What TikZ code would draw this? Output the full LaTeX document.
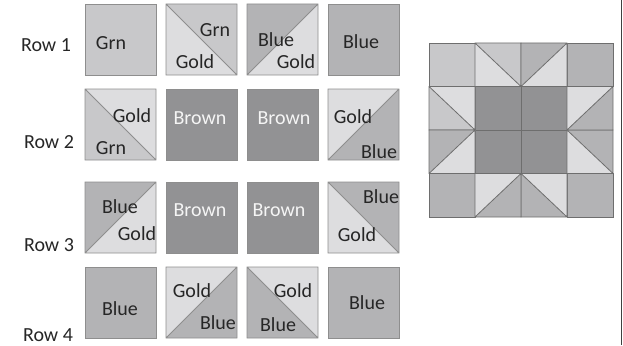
\documentclass[tikz,border=0pt]{standalone}
\usepackage{fontspec}
\setmainfont{Carlito}

\definecolor{grncol}{HTML}{C8C8CA}
\definecolor{goldcol}{HTML}{DDDDDF}
\definecolor{bluecol}{HTML}{B3B3B5}
\definecolor{browncol}{HTML}{929294}
\definecolor{edgecol}{HTML}{8E8E8E}
\definecolor{qedgecol}{HTML}{6E6E6E}

\tikzset{
  patch/.style={draw=edgecol, line width=0.9pt},
  qpatch/.style={draw=qedgecol, line width=0.8pt},
  lbl/.style={font=\fontsize{20}{24}\selectfont, inner sep=0pt, text=black!85},
  wlbl/.style={lbl, text=white!96!black}
}

\begin{document}
\begin{tikzpicture}[x=1pt, y=-1pt]
    \useasboundingbox (0,0) rectangle (623,345);

    % Solid squares of the block
    \foreach \x/\y/\A in {85/4/grncol, 328/4/bluecol, 166/89/browncol, 247/89/browncol,
                          166/182/browncol, 247/182/browncol, 85/267/bluecol, 328/267/bluecol}{
        \filldraw[patch, fill=\A] (\x,\y) rectangle (\x+71,\y+71);
    }

    % Half squares, diagonal from top left to bottom right
    \foreach \x/\y/\A/\B in {166/4/grncol/goldcol, 85/89/goldcol/grncol,
                             328/182/bluecol/goldcol, 247/267/goldcol/bluecol}{
        \fill[\A] (\x,\y) -- (\x+71,\y) -- (\x+71,\y+71) -- cycle;
        \fill[\B] (\x,\y) -- (\x,\y+71) -- (\x+71,\y+71) -- cycle;
        \draw[patch] (\x,\y) rectangle (\x+71,\y+71) (\x,\y) -- (\x+71,\y+71);
    }

    % Half squares, diagonal from bottom left to top right
    \foreach \x/\y/\A/\B in {247/4/bluecol/goldcol, 328/89/goldcol/bluecol,
                             85/182/bluecol/goldcol, 166/267/goldcol/bluecol}{
        \fill[\A] (\x,\y+71) -- (\x,\y) -- (\x+71,\y) -- cycle;
        \fill[\B] (\x,\y+71) -- (\x+71,\y+71) -- (\x+71,\y) -- cycle;
        \draw[patch] (\x,\y) rectangle (\x+71,\y+71) (\x,\y+71) -- (\x+71,\y);
    }

    % Row labels
    \node[lbl] (row1) at (46,45) {Row 1};
    \node[lbl] (row2) at (49,142) {Row 2};
    \node[lbl] (row3) at (49,245) {Row 3};
    \node[lbl] (row4) at (48,335) {Row 4};

    % Patch labels, row 1
    \node[lbl] (a1) at (111,43) {Grn};
    \node[lbl] (b1) at (215,30) {Grn};
    \node[lbl] (b1g) at (195,62) {Gold};
    \node[lbl] (c1) at (276,40) {Blue};
    \node[lbl] (c1g) at (296,62) {Gold};
    \node[lbl] (d1) at (361,42) {Blue};

    % Patch labels, row 2
    \node[lbl] (a2) at (132,116) {Gold};
    \node[lbl] (a2g) at (111,148) {Grn};
    \node[wlbl] (b2) at (200,118) {Brown};
    \node[wlbl] (c2) at (284,118) {Brown};
    \node[lbl] (d2) at (353,117) {Gold};
    \node[lbl] (d2b) at (379,152) {Blue};

    % Patch labels, row 3
    \node[lbl] (a3) at (120,207) {Blue};
    \node[lbl] (a3g) at (137,234) {Gold};
    \node[wlbl] (b3) at (200,210) {Brown};
    \node[wlbl] (c3) at (279,210) {Brown};
    \node[lbl] (d3) at (381,197) {Blue};
    \node[lbl] (d3g) at (357,235) {Gold};

    % Patch labels, row 4
    \node[lbl] (a4) at (120,309) {Blue};
    \node[lbl] (b4) at (192,291) {Gold};
    \node[lbl] (b4b) at (218,323) {Blue};
    \node[lbl] (c4) at (293,291) {Gold};
    \node[lbl] (c4b) at (278,325) {Blue};
    \node[lbl] (d4) at (367,303) {Blue};

    % Finished block on the right
    \foreach \c/\r/\A in {0/0/grncol, 3/0/bluecol, 1/1/browncol, 2/1/browncol,
                          1/2/browncol, 2/2/browncol, 0/3/bluecol, 3/3/bluecol}{
        \filldraw[qpatch, fill=\A] (429+46*\c,43+43.5*\r) rectangle (475+46*\c,86.5+43.5*\r);
    }
    \foreach \c/\r/\A/\B in {1/0/grncol/goldcol, 0/1/goldcol/grncol,
                             3/2/bluecol/goldcol, 2/3/goldcol/bluecol}{
        \fill[\A] (429+46*\c,43+43.5*\r) -- (475+46*\c,43+43.5*\r) -- (475+46*\c,86.5+43.5*\r) -- cycle;
        \fill[\B] (429+46*\c,43+43.5*\r) -- (429+46*\c,86.5+43.5*\r) -- (475+46*\c,86.5+43.5*\r) -- cycle;
        \draw[qpatch] (429+46*\c,43+43.5*\r) rectangle (475+46*\c,86.5+43.5*\r)
            (429+46*\c,43+43.5*\r) -- (475+46*\c,86.5+43.5*\r);
    }
    \foreach \c/\r/\A/\B in {2/0/bluecol/goldcol, 3/1/goldcol/bluecol,
                             0/2/bluecol/goldcol, 1/3/goldcol/bluecol}{
        \fill[\A] (429+46*\c,86.5+43.5*\r) -- (429+46*\c,43+43.5*\r) -- (475+46*\c,43+43.5*\r) -- cycle;
        \fill[\B] (429+46*\c,86.5+43.5*\r) -- (475+46*\c,86.5+43.5*\r) -- (475+46*\c,43+43.5*\r) -- cycle;
        \draw[qpatch] (429+46*\c,43+43.5*\r) rectangle (475+46*\c,86.5+43.5*\r)
            (429+46*\c,86.5+43.5*\r) -- (475+46*\c,43+43.5*\r);
    }

    % Page edge
    \draw[line width=1.5pt, black!75] (621.5,0) -- (621.5,345);
\end{tikzpicture}
\end{document}
